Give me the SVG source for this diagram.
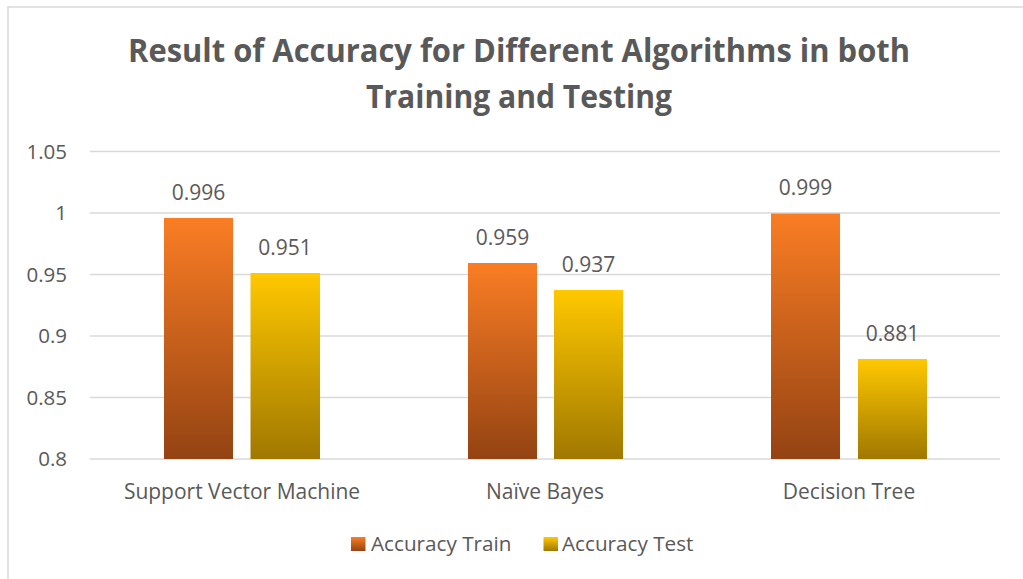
<svg xmlns="http://www.w3.org/2000/svg" width="1023" height="579" viewBox="0 0 1023 579">
<defs>
<linearGradient id="gTrain" x1="0" y1="0" x2="0" y2="1">
<stop offset="0" stop-color="#FA7D24"/>
<stop offset="1" stop-color="#944313"/>
</linearGradient>
<linearGradient id="gTest" x1="0" y1="0" x2="0" y2="1">
<stop offset="0" stop-color="#FFC800"/>
<stop offset="1" stop-color="#A07800"/>
</linearGradient>
<style>
text{font-family:"Open Sans","Liberation Sans",sans-serif;fill:#595959}
.title{font-size:33px;font-weight:bold;text-anchor:middle}
.ax{font-size:20.5px;text-anchor:end}
.val{font-size:21px;text-anchor:middle}
.cat{font-size:21px;text-anchor:middle}
.leg{font-size:20.7px}
.grid{stroke:#D9D9D9;stroke-width:1.5}
</style>
</defs>
<rect x="0" y="0" width="1023" height="579" fill="#fff"/>
<rect x="8" y="7" width="1030" height="590" fill="none" stroke="#D9D9D9" stroke-width="1.5"/>
<g id="title">
<text class="title" x="519" y="62" textLength="782" lengthAdjust="spacingAndGlyphs">Result of Accuracy for Different Algorithms in both</text>
<text class="title" x="519" y="108" textLength="306" lengthAdjust="spacingAndGlyphs">Training and Testing</text>
</g>
<g id="grid">
<line class="grid" x1="90" y1="151.5" x2="1000" y2="151.5"/>
<line class="grid" x1="90" y1="213" x2="1000" y2="213"/>
<line class="grid" x1="90" y1="274.5" x2="1000" y2="274.5"/>
<line class="grid" x1="90" y1="336" x2="1000" y2="336"/>
<line class="grid" x1="90" y1="397.5" x2="1000" y2="397.5"/>
<line class="grid" x1="90" y1="459" x2="1000" y2="459"/>
</g>
<g id="yaxis">
<text class="ax" x="67" y="159">1.05</text>
<text class="ax" x="67" y="220">1</text>
<text class="ax" x="67" y="282">0.95</text>
<text class="ax" x="67" y="343">0.9</text>
<text class="ax" x="67" y="405">0.85</text>
<text class="ax" x="67" y="466">0.8</text>
</g>
<g id="svm">
<rect x="164" y="218" width="69" height="241" fill="url(#gTrain)"/>
<rect x="250.5" y="273" width="69.5" height="186" fill="url(#gTest)"/>
<text class="val" x="198.5" y="200">0.996</text>
<text class="val" x="285" y="255">0.951</text>
<text class="cat" x="242" y="499">Support Vector Machine</text>
</g>
<g id="nb">
<rect x="468" y="263" width="69" height="196" fill="url(#gTrain)"/>
<rect x="554" y="290" width="69" height="169" fill="url(#gTest)"/>
<text class="val" x="502.5" y="245">0.959</text>
<text class="val" x="588.5" y="272">0.937</text>
<text class="cat" x="545" y="499">Naïve Bayes</text>
</g>
<g id="dt">
<rect x="771" y="213.5" width="69" height="245.5" fill="url(#gTrain)"/>
<rect x="858" y="359" width="69" height="100" fill="url(#gTest)"/>
<text class="val" x="805.5" y="195">0.999</text>
<text class="val" x="892.5" y="341">0.881</text>
<text class="cat" x="849" y="499">Decision Tree</text>
</g>
<g id="legend">
<rect x="351" y="537" width="14.5" height="14" fill="url(#gTrain)"/>
<text class="leg" x="371" y="551">Accuracy Train</text>
<rect x="543.5" y="537" width="14.5" height="14" fill="url(#gTest)"/>
<text class="leg" x="562" y="551">Accuracy Test</text>
</g>
</svg>
